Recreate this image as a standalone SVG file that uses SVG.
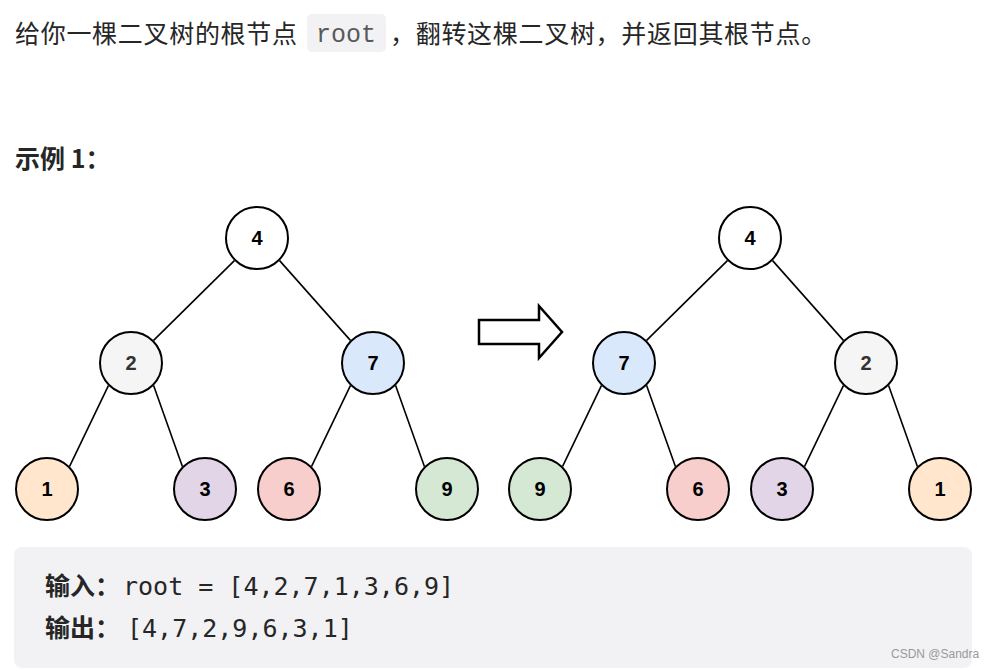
<svg xmlns="http://www.w3.org/2000/svg" width="998" height="670" viewBox="0 0 998 670">
<style>
.t{font-family:"Noto Sans CJK SC","Noto Sans",sans-serif;fill:#262626;font-size:25px}
.b{font-weight:bold}
.mono{font-family:"DejaVu Sans Mono","Liberation Mono",monospace;fill:#262626;font-size:25px}
.code{font-family:"Liberation Mono",monospace;fill:#595959;font-size:25px}
.n circle{stroke:#000;stroke-width:2}
.lbl{font-family:"Liberation Sans",Arial,sans-serif;font-weight:bold;font-size:20px;text-anchor:middle;fill:#000}
.edges line{stroke:#000;stroke-width:1.6}
</style>
<rect width="998" height="670" fill="#fff"/>
<g id="title">
<text class="t" x="15" y="43" letter-spacing="0.7">给你一棵二叉树的根节点</text>
<rect x="307" y="14" width="79" height="38" rx="5" fill="#f2f2f4"/>
<text class="code" x="316" y="42">root</text>
<text class="t" x="390" y="43" letter-spacing="0.7">，翻转这棵二叉树，并返回其根节点。</text>
</g>
<text class="t b" x="15" y="168" font-size="24">示例 1：</text>
<g class="edges" id="connectors">
<line x1="234.4" y1="260.6" x2="153.6" y2="340.4"/>
<line x1="279.6" y1="260.6" x2="350.4" y2="340.4"/>
<line x1="108.4" y1="385.6" x2="69.6" y2="466.4"/>
<line x1="153.6" y1="385.6" x2="182.4" y2="466.4"/>
<line x1="350.4" y1="385.6" x2="311.6" y2="466.4"/>
<line x1="395.6" y1="385.6" x2="424.4" y2="466.4"/>
<line x1="727.4" y1="260.6" x2="646.6" y2="340.4"/>
<line x1="772.6" y1="260.6" x2="843.4" y2="340.4"/>
<line x1="601.4" y1="385.6" x2="562.6" y2="466.4"/>
<line x1="646.6" y1="385.6" x2="675.4" y2="466.4"/>
<line x1="843.4" y1="385.6" x2="804.6" y2="466.4"/>
<line x1="888.6" y1="385.6" x2="917.4" y2="466.4"/>
</g>
<g id="arrow">
<polygon points="479,320 539,320 539,306 562,332 539,358 539,344 479,344" fill="#fff" stroke="#000" stroke-width="2.5" stroke-linejoin="miter"/>
</g>
<g class="n" id="L4"><circle cx="257" cy="238" r="31" fill="#fff"/><text class="lbl" x="257" y="245">4</text></g>
<g class="n" id="L2"><circle cx="131" cy="363" r="31" fill="#f5f5f5"/><text class="lbl" x="131" y="370" style="fill:#333">2</text></g>
<g class="n" id="L7"><circle cx="373" cy="363" r="31" fill="#dae8fc"/><text class="lbl" x="373" y="370">7</text></g>
<g class="n" id="L1"><circle cx="47" cy="489" r="31" fill="#ffe6cc"/><text class="lbl" x="47" y="496">1</text></g>
<g class="n" id="L3"><circle cx="205" cy="489" r="31" fill="#e1d5e7"/><text class="lbl" x="205" y="496">3</text></g>
<g class="n" id="L6"><circle cx="289" cy="489" r="31" fill="#f8cecc"/><text class="lbl" x="289" y="496">6</text></g>
<g class="n" id="L9"><circle cx="447" cy="489" r="31" fill="#d5e8d4"/><text class="lbl" x="447" y="496">9</text></g>
<g class="n" id="R4"><circle cx="750" cy="238" r="31" fill="#fff"/><text class="lbl" x="750" y="245">4</text></g>
<g class="n" id="R7"><circle cx="624" cy="363" r="31" fill="#dae8fc"/><text class="lbl" x="624" y="370">7</text></g>
<g class="n" id="R2"><circle cx="866" cy="363" r="31" fill="#f5f5f5"/><text class="lbl" x="866" y="370" style="fill:#333">2</text></g>
<g class="n" id="R9"><circle cx="540" cy="489" r="31" fill="#d5e8d4"/><text class="lbl" x="540" y="496">9</text></g>
<g class="n" id="R6"><circle cx="698" cy="489" r="31" fill="#f8cecc"/><text class="lbl" x="698" y="496">6</text></g>
<g class="n" id="R3"><circle cx="782" cy="489" r="31" fill="#e1d5e7"/><text class="lbl" x="782" y="496">3</text></g>
<g class="n" id="R1"><circle cx="940" cy="489" r="31" fill="#ffe6cc"/><text class="lbl" x="940" y="496">1</text></g>
<g id="example">
<rect x="14" y="547" width="958" height="121" rx="8" fill="#f2f2f4"/>
<text class="t b" x="45" y="595">输入：</text>
<text class="mono" x="123" y="595">root = [4,2,7,1,3,6,9]</text>
<text class="t b" x="45" y="637">输出：</text>
<text class="mono" x="127" y="637">[4,7,2,9,6,3,1]</text>
</g>
<text x="891" y="658" font-family="Liberation Sans,Arial,sans-serif" font-size="12" fill="#999">CSDN @Sandra</text>
</svg>
